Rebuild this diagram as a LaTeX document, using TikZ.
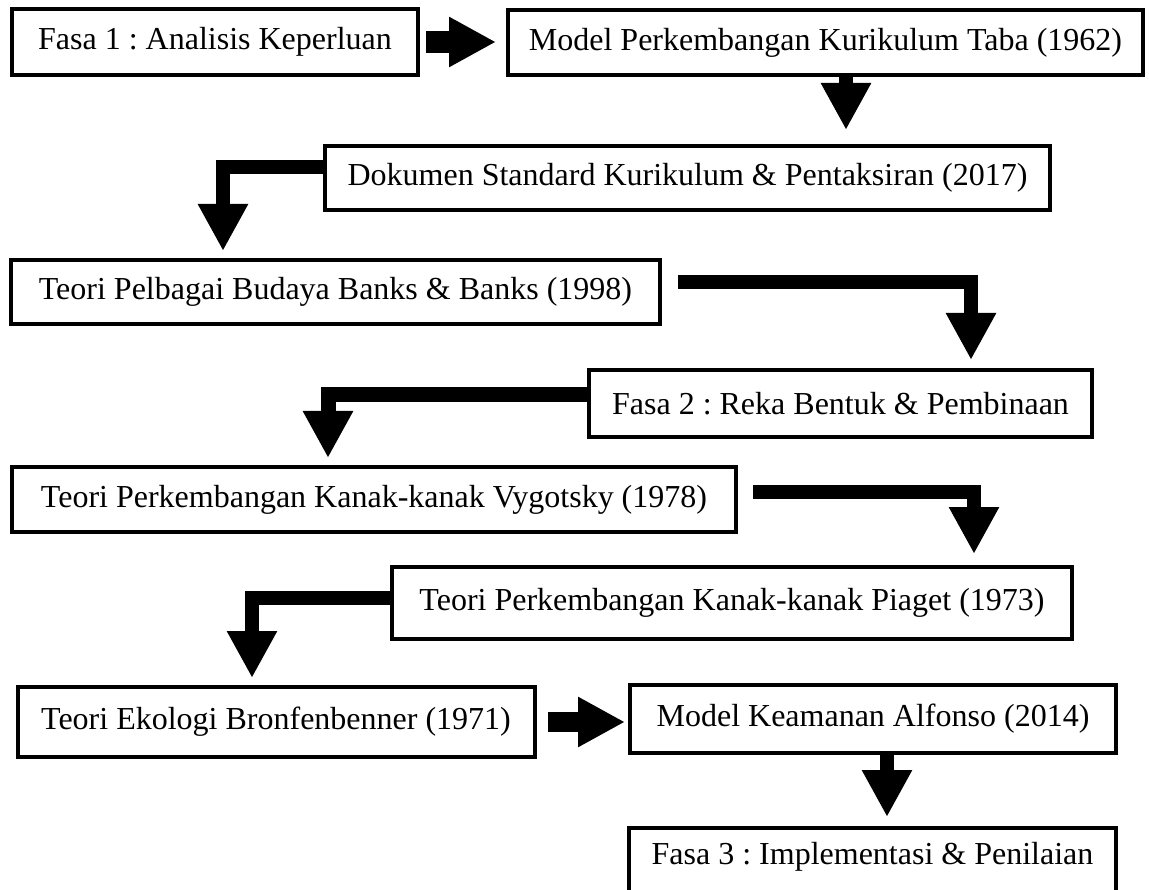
\documentclass[tikz,border=0pt]{standalone}
\usepackage{fontspec}
\setmainfont{Liberation Serif}
\frenchspacing
\usetikzlibrary{arrows.meta}
\tikzset{box/.style={draw, rectangle, line width=4pt, inner sep=0pt, fill=white,
                     font=\fontsize{32pt}{38pt}\selectfont},
         flow/.style={line width=14pt, -{Triangle[length=47pt,width=47pt]}}
         }

\begin{document}
\begin{tikzpicture}[x=1pt, y=-1pt]
        \useasboundingbox (0,0) rectangle (1149,890);
        \clip (0,0) rectangle (1149,890);

        % boxes, top to bottom
        \node[box, minimum width=406pt, minimum height=66pt] (fasa1) at (215,42) {Fasa 1 : Analisis Keperluan};
        \node[box, minimum width=635pt, minimum height=65pt] (taba) at (825.5,42.5) {Model Perkembangan Kurikulum Taba (1962)};
        \node[box, minimum width=725pt, minimum height=64pt] (dokumen) at (687.5,178) {Dokumen Standard Kurikulum \& Pentaksiran (2017)};
        \node[box, minimum width=649pt, minimum height=64pt] (banks) at (335.5,292) {Teori Pelbagai Budaya Banks \& Banks (1998)};
        \node[box, minimum width=503pt, minimum height=67pt] (fasa2) at (840.5,403.5) {Fasa 2 : Reka Bentuk \& Pembinaan};
        \node[box, minimum width=724pt, minimum height=65pt] (vygotsky) at (374,499.5) {Teori Perkembangan Kanak-kanak Vygotsky (1978)};
        \node[box, minimum width=680pt, minimum height=72pt] (piaget) at (732,603) {Teori Perkembangan Kanak-kanak Piaget (1973)};
        \node[box, minimum width=517pt, minimum height=70pt] (ekologi) at (276,722) {Teori Ekologi Bronfenbenner (1971)};
        \node[box, minimum width=486pt, minimum height=68pt] (keamanan) at (873,719) {Model Keamanan Alfonso (2014)};
        \node[box, minimum width=487pt, minimum height=100pt, text depth=50pt] (fasa3) at (872.5,878) {Fasa 3 : Implementasi \& Penilaian};

        % arrows
        \draw[flow, line width=22pt] ([xshift=6pt]fasa1.east) -- ([xshift=-10pt]taba.west |- fasa1.east);
        \draw[flow, shorten >=14pt] ([xshift=20.5pt]taba.south) -- ([xshift=20.5pt]taba.south |- dokumen.north);
        \draw[flow, shorten >=7pt] ([yshift=11pt]dokumen.west) -| ([xshift=-112.5pt]banks.north);
        \draw[flow, shorten >=8pt] ([xshift=16pt,yshift=10pt]banks.east) -| ([xshift=130.5pt]fasa2.north);
        \draw[flow, line width=15pt, shorten >=7pt] ([yshift=9pt]fasa2.west) -| ([xshift=-46pt]vygotsky.north);
        \draw[flow, shorten >=11pt] ([xshift=15pt,yshift=8pt]vygotsky.east) -| ([xshift=242pt]piaget.north);
        \draw[flow, shorten >=7pt] ([yshift=5pt]piaget.west) -| ([xshift=-24pt]ekologi.north);
        \draw[flow, line width=20pt, shorten >=3pt] ([xshift=11pt]ekologi.east) -- (ekologi.east -| keamanan.west);
        \draw[flow, shorten >=9pt] ([xshift=14pt]keamanan.south) -- ([xshift=14pt]keamanan.south |- fasa3.north);
\end{tikzpicture}
\end{document}
